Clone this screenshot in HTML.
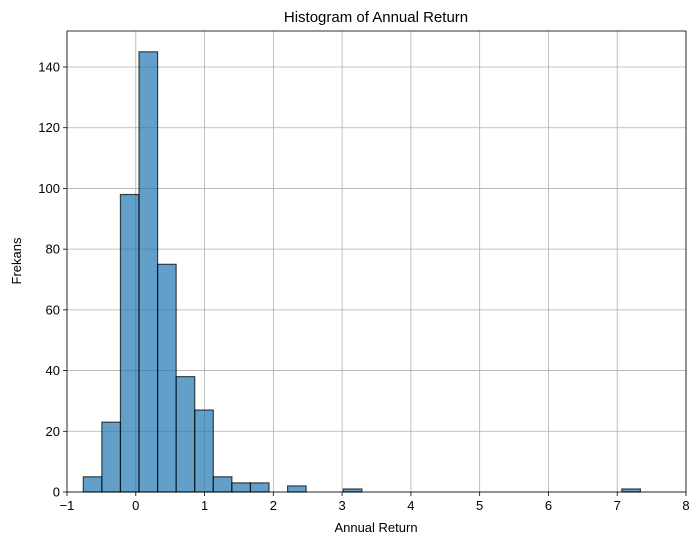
<!DOCTYPE html>
<html><head><meta charset="utf-8"><style>
body{margin:0;background:#fff;overflow:hidden}
svg text{font-family:"Liberation Sans","DejaVu Sans",sans-serif;fill:#000}
</style></head><body>
<svg id="c" width="700" height="545" style="display:block" xmlns="http://www.w3.org/2000/svg"></svg>
<script>
const counts=[5,23,98,145,75,38,27,5,3,3,0,2,0,0,1,0,0,0,0,0,0,0,0,0,0,0,0,0,0,1];
const binStart=-0.763;
const binWidth=0.27;
const xTicks=[-1,0,1,2,3,4,5,6,7,8];
const yTicks=[0,20,40,60,80,100,120,140];
const L=67,R=686,T=31,B=492;
const xs=v=>L+(v+1)/9*(R-L);
const ys=v=>B-v*(425/140);
const svg=document.getElementById('c');
const NS='http://www.w3.org/2000/svg';
function mk(t,a,p){const e=document.createElementNS(NS,t);for(const k in a)e.setAttribute(k,a[k]);(p||svg).appendChild(e);return e;}
const grid=mk('g',{});


xTicks.forEach(t=>{mk('line',{x1:xs(t),x2:xs(t),y1:T,y2:B,stroke:'#b0b0b0','stroke-width':0.8},grid);});
yTicks.forEach(t=>{mk('line',{x1:L,x2:R,y1:ys(t),y2:ys(t),stroke:'#b0b0b0','stroke-width':0.8},grid);});
const bars=mk('g',{});


counts.forEach((c,i)=>{if(!c)return;const x0=xs(binStart+i*binWidth),x1=xs(binStart+(i+1)*binWidth);
const r=mk('rect',{x:x0,y:ys(c),width:x1-x0,height:ys(0)-ys(c),fill:'rgba(31,119,180,0.7)',stroke:'rgba(0,0,0,0.7)','stroke-width':1.2},bars);

});
const fr=mk('rect',{x:L,y:T,width:R-L,height:B-T,fill:'none',stroke:'#000','stroke-width':0.8});


const xa=mk('g',{});


xTicks.forEach(t=>{mk('line',{x1:xs(t),x2:xs(t),y1:B,y2:B+4,stroke:'#000','stroke-width':0.8},xa);
const tx=mk('text',{x:xs(t),y:B+18,'text-anchor':'middle','font-size':13},xa);tx.textContent=t<0?'\u2212'+(-t):t;});
const ya=mk('g',{});


yTicks.forEach(t=>{mk('line',{x1:L-4,x2:L,y1:ys(t),y2:ys(t),stroke:'#000','stroke-width':0.8},ya);
const tx=mk('text',{x:L-7,y:ys(t)+4.5,'text-anchor':'end','font-size':13},ya);tx.textContent=t;});
</script>
<div style="position:absolute;left:0;top:0;width:700px;height:545px;pointer-events:none">
<svg width="700" height="545" xmlns="http://www.w3.org/2000/svg">
<text x="376" y="22" text-anchor="middle" font-size="15">Histogram of Annual Return</text>
<text x="376" y="532" text-anchor="middle" font-size="13">Annual Return</text>
<text x="21" y="261" text-anchor="middle" font-size="13" transform="rotate(-90 21 261)">Frekans</text>
</svg></div>
</body></html>
